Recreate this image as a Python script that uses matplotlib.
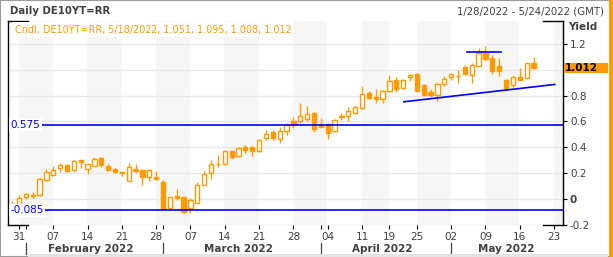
import numpy as np
import pandas as pd
import matplotlib
matplotlib.use("Agg")
import matplotlib.pyplot as plt
from matplotlib.patches import Rectangle
from matplotlib.transforms import blended_transform_factory

# trading days shown on the axis (Good Friday / Easter Monday closed)
dates = pd.bdate_range("2022-01-28", "2022-05-24")
dates = dates[~dates.isin(pd.to_datetime(["2022-04-15", "2022-04-18"]))]

# daily OHLC, DE10YT=RR, 1/28/2022 - 5/18/2022
opens = [-0.040, -0.036, 0.015, 0.030, 0.031, 0.144, 0.185, 0.242, 0.263, 0.226,
         0.301, 0.232, 0.257, 0.314, 0.252, 0.232, 0.203, 0.141, 0.232, 0.224,
         0.167, 0.167, 0.131, -0.070, 0.023, 0.013, -0.070, -0.028, 0.110, 0.203,
         0.268, 0.270, 0.368, 0.332, 0.399, 0.399, 0.368, 0.476, 0.517, 0.461,
         0.523, 0.600, 0.600, 0.620, 0.667, 0.579, 0.579, 0.523, 0.631, 0.646,
         0.667, 0.703, 0.816, 0.790, 0.770, 0.832, 0.919, 0.857, 0.940, 0.970,
         0.883, 0.826, 0.801, 0.893, 0.944, 0.948, 1.017, 0.960, 1.032, 1.130,
         1.089, 1.027, 0.924, 0.883, 0.940, 0.934, 1.051]
highs = [-0.015, 0.031, 0.049, 0.056, 0.160, 0.232, 0.257, 0.276, 0.272, 0.304,
         0.303, 0.276, 0.324, 0.327, 0.268, 0.240, 0.219, 0.276, 0.270, 0.226,
         0.234, 0.214, 0.147, 0.018, 0.075, 0.018, 0.008, 0.131, 0.214, 0.301,
         0.342, 0.378, 0.373, 0.399, 0.415, 0.409, 0.461, 0.533, 0.533, 0.554,
         0.589, 0.636, 0.744, 0.718, 0.672, 0.625, 0.589, 0.620, 0.662, 0.713,
         0.723, 0.873, 0.832, 0.852, 0.842, 0.960, 0.944, 0.930, 0.970, 0.972,
         0.888, 0.852, 0.903, 0.950, 0.975, 0.996, 1.037, 1.048, 1.171, 1.181,
         1.110, 1.089, 0.926, 0.955, 1.012, 1.052, 1.095]
lows = [-0.065, -0.046, 0.000, 0.005, 0.025, 0.139, 0.180, 0.206, 0.211, 0.210,
        0.242, 0.191, 0.252, 0.250, 0.221, 0.200, 0.178, 0.139, 0.208, 0.110,
        0.141, 0.152, -0.080, -0.085, -0.008, -0.106, -0.106, -0.033, 0.106, 0.152,
        0.250, 0.265, 0.311, 0.327, 0.353, 0.332, 0.363, 0.456, 0.456, 0.435,
        0.492, 0.548, 0.589, 0.605, 0.517, 0.554, 0.466, 0.517, 0.615, 0.605,
        0.656, 0.697, 0.770, 0.744, 0.744, 0.826, 0.826, 0.852, 0.909, 0.834,
        0.795, 0.790, 0.759, 0.873, 0.919, 0.898, 0.960, 0.898, 1.027, 1.075,
        0.970, 0.955, 0.842, 0.867, 0.919, 0.929, 1.008]
closes = [-0.045, 0.010, 0.036, 0.025, 0.152, 0.206, 0.226, 0.263, 0.221, 0.293,
          0.288, 0.270, 0.309, 0.263, 0.226, 0.206, 0.200, 0.245, 0.216, 0.167,
          0.224, 0.157, -0.075, 0.013, 0.008, -0.100, -0.008, 0.106, 0.193, 0.270,
          0.272, 0.368, 0.327, 0.394, 0.378, 0.368, 0.456, 0.502, 0.476, 0.527,
          0.569, 0.574, 0.641, 0.656, 0.543, 0.558, 0.512, 0.610, 0.646, 0.677,
          0.708, 0.811, 0.785, 0.770, 0.832, 0.909, 0.852, 0.919, 0.960, 0.836,
          0.801, 0.806, 0.888, 0.929, 0.965, 0.952, 0.970, 1.037, 1.130, 1.079,
          0.991, 0.991, 0.862, 0.940, 0.924, 1.048, 1.012]

# horizontal levels and drawn trend lines
levels = [0.575, -0.085]
top_line = (["2022-05-05", "2022-05-12"], [1.133, 1.133])
rise_line = (["2022-04-21", "2022-05-24"], [0.752, 0.886])
last_close = 1.012

orange = "#ff9900"
blue = "#0000ff"
txt = "#404040"

plt.rcParams["font.family"] = ["DejaVu Sans"]

fig = plt.figure(figsize=(6.13, 2.57), dpi=100)
ax = fig.add_axes([8 / 613, 32 / 257, 555 / 613, 204.5 / 257])

x = np.arange(len(dates))
pos = {d: i for i, d in enumerate(dates)}
n = len(closes)
xs = x[:n]

# weekly background bands
week = dates.to_period("W")
week_starts = [i for i in range(len(dates)) if i == 0 or week[i] != week[i - 1]][1:]
bounds = week_starts + [len(dates) + 1]
for k in range(len(week_starts)):
    if k % 2 == 0:
        ax.axvspan(bounds[k] - 0.05, bounds[k + 1] - 0.05, color="#f6f6f6", lw=0, zorder=0)

# candles
o = np.array(opens); c = np.array(closes)
up = c >= o
ax.vlines(xs, lows, highs, color=orange, lw=1.0, zorder=2)
body = np.where(np.abs(c - o) < 0.004, 0.004, c - o)
ax.bar(xs[up], body[up], bottom=o[up], width=0.62, facecolor="white",
       edgecolor=orange, linewidth=1.0, zorder=3)
ax.bar(xs[~up], body[~up], bottom=o[~up], width=0.62, facecolor=orange,
       edgecolor=orange, linewidth=1.0, zorder=3)

for lv in levels:
    ax.axhline(lv, color=blue, lw=1.2, zorder=4)
trans_l = blended_transform_factory(ax.transAxes, ax.transData)
for lv in levels:
    ax.text(0.004, lv, f"{lv:.3f}", transform=trans_l, color=blue, fontsize=7.5,
            va="center", ha="left", zorder=5,
            bbox=dict(boxstyle="square,pad=0.15", fc="white", ec="none"))

for dd, vv in (top_line, rise_line):
    xx = [pos[pd.Timestamp(d)] for d in dd]
    if dd is top_line[0]:
        xx = [xx[0] - 0.7, xx[1] - 0.8]
    else:
        xx = [xx[0] + 0.1, xx[1] - 0.9]
    ax.plot(xx, vv, color=blue, lw=1.2, zorder=4)

ax.set_xlim(-0.6, 80.3)
ax.set_ylim(-0.2, 1.38)

# y axis on the right (the "1" label sits under the last-value box)
ax.yaxis.tick_right()
yt = [1.2, 1.0, 0.8, 0.6, 0.4, 0.2, 0.0, -0.2]
ax.set_yticks(yt)
ax.set_yticklabels(["1.2", "", "0.8", "0.6", "0.4", "0.2", "0", "-0.2"])
ax.tick_params(axis="y", length=3, width=0.8, pad=2, labelsize=7.5, labelcolor=txt)
for lab in ax.get_yticklabels():
    if lab.get_text() == "0":
        lab.set_fontweight("bold")
ax.grid(axis="y", color="#e8e8e8", lw=1.0, zorder=1)
ax.set_axisbelow(True)

# x axis: week starts + month starts
ax.set_xticks(week_starts)
ax.set_xticklabels([dates[i].strftime("%d") for i in week_starts])
ax.tick_params(axis="x", length=3, width=0.8, pad=2, labelsize=7.5, labelcolor=txt)
month = dates.to_period("M")
month_starts = [i for i in range(1, len(dates)) if month[i] != month[i - 1]]
ax.set_xticks(month_starts, minor=True)
ax.tick_params(axis="x", which="minor", length=3, width=0.8)
trans_b = blended_transform_factory(ax.transData, ax.transAxes)
for i in month_starts:
    ax.plot([i, i], [-0.088, -0.141], transform=trans_b, color=txt, lw=0.9, clip_on=False)
edges = [0] + month_starts + [len(dates)]
for k in range(1, len(edges) - 1):
    mid = (edges[k] + edges[k + 1] - 1) / 2
    ax.text(mid, -0.117, dates[edges[k]].strftime("%B %Y"), transform=trans_b,
            ha="center", va="center", fontsize=7.5, fontweight="bold", color=txt)

# frame: full left/right, corner stubs top/bottom
for s in ("top", "bottom"):
    ax.spines[s].set_visible(False)
for s in ("left", "right"):
    ax.spines[s].set_color("black")
    ax.spines[s].set_linewidth(1.0)
stub = 20 / 555
for yy in (0, 1):
    ax.plot([0, stub], [yy, yy], transform=ax.transAxes, color="black", lw=1.0, clip_on=False)
    ax.plot([1 - stub, 1], [yy, yy], transform=ax.transAxes, color="black", lw=1.0, clip_on=False)

# last value marker
trans_r = blended_transform_factory(ax.transAxes, ax.transData)
ax.add_patch(Rectangle((1.0015, last_close - 0.039), 44 / 555, 0.078, transform=trans_r,
                       facecolor=orange, edgecolor="none", clip_on=False, zorder=6))
ax.text(1.004, last_close, f"{last_close:.3f}", transform=trans_r, fontsize=7.5,
        fontweight="bold", color="black", va="center", ha="left", zorder=7)
ax.text(1.01, 0.968, "Yield", transform=ax.transAxes, fontsize=7.5, fontweight="bold",
        color=txt, va="center", ha="left", clip_on=False)

# header texts
fig.text(10 / 613, 1 - 11.5 / 257, "Daily DE10YT=RR", fontsize=7.3, fontweight="bold",
         color=txt, va="center", ha="left")
fig.text(604 / 613, 1 - 11.5 / 257, "1/28/2022 - 5/24/2022 (GMT)", fontsize=7.3,
         color=txt, va="center", ha="right")
ax.text(0.013, 0.955, "Cndl, DE10YT=RR, 5/18/2022, 1.051, 1.095, 1.008, 1.012",
        transform=ax.transAxes, fontsize=6.9, color=orange, va="center", ha="left", zorder=6,
        bbox=dict(boxstyle="square,pad=0.25", fc="white", ec="none"))

# window border and side strips
fig.patches.append(Rectangle((0, 0), 1, 1, transform=fig.transFigure, fill=False,
                             edgecolor="#9a9a9a", lw=1.5))
fig.patches.append(Rectangle((609 / 613, 0), 4 / 613, 1, transform=fig.transFigure,
                             facecolor=orange, edgecolor="none"))
fig.patches.append(Rectangle((28 / 613, 0), 580 / 613, 3 / 257, transform=fig.transFigure,
                             facecolor="#e3e3e3", edgecolor="none"))

fig.savefig("out.png", dpi=100)
